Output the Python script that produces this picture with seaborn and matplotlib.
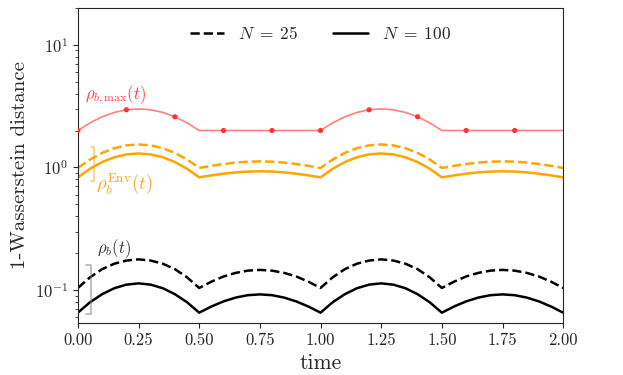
import numpy as np
import pandas as pd
import matplotlib
matplotlib.use("Agg")
import matplotlib.pyplot as plt
import seaborn as sns

# time grid (step 0.05)
time = np.round(np.arange(0, 2.0001, 0.05), 2)

# values (1-Wasserstein distance)
rho_max = [2.0, 2.309, 2.588, 2.809, 2.951, 3.0, 2.951, 2.809, 2.588, 2.309,
           2.0, 2.0, 2.0, 2.0, 2.0, 2.0, 2.0, 2.0, 2.0, 2.0,
           2.0, 2.309, 2.588, 2.809, 2.951, 3.0, 2.951, 2.809, 2.588, 2.309,
           2.0, 2.0, 2.0, 2.0, 2.0, 2.0, 2.0, 2.0, 2.0, 2.0,
           2.0]
env_25 = [0.99, 1.16, 1.313, 1.435, 1.513, 1.54, 1.513, 1.435, 1.313, 1.16,
          0.99, 1.03, 1.066, 1.095, 1.114, 1.12, 1.114, 1.095, 1.066, 1.03,
          0.99, 1.16, 1.313, 1.435, 1.513, 1.54, 1.513, 1.435, 1.313, 1.16,
          0.99, 1.03, 1.066, 1.095, 1.114, 1.12, 1.114, 1.095, 1.066, 1.03,
          0.99]
env_100 = [0.83, 0.975, 1.106, 1.21, 1.277, 1.30, 1.277, 1.21, 1.106, 0.975,
           0.83, 0.861, 0.889, 0.911, 0.925, 0.93, 0.925, 0.911, 0.889, 0.861,
           0.83, 0.975, 1.106, 1.21, 1.277, 1.30, 1.277, 1.21, 1.106, 0.975,
           0.83, 0.861, 0.889, 0.911, 0.925, 0.93, 0.925, 0.911, 0.889, 0.861,
           0.83]
rho_25 = [0.104, 0.127, 0.148, 0.164, 0.174, 0.178, 0.174, 0.164, 0.148, 0.127,
          0.104, 0.117, 0.129, 0.138, 0.144, 0.146, 0.144, 0.138, 0.129, 0.117,
          0.104, 0.127, 0.148, 0.164, 0.174, 0.178, 0.174, 0.164, 0.148, 0.127,
          0.104, 0.117, 0.129, 0.138, 0.144, 0.146, 0.144, 0.138, 0.129, 0.117,
          0.104]
rho_100 = [0.0654, 0.0795, 0.0925, 0.1035, 0.1107, 0.1134, 0.1107, 0.1035, 0.0925, 0.0795,
           0.0654, 0.0734, 0.0808, 0.0868, 0.0908, 0.0922, 0.0908, 0.0868, 0.0808, 0.0734,
           0.0654, 0.0795, 0.0925, 0.1035, 0.1107, 0.1134, 0.1107, 0.1035, 0.0925, 0.0795,
           0.0654, 0.0734, 0.0808, 0.0868, 0.0908, 0.0922, 0.0908, 0.0868, 0.0808, 0.0734,
           0.0654]
xticks = [0.0, 0.25, 0.5, 0.75, 1.0, 1.25, 1.5, 1.75, 2.0]

df = pd.DataFrame({"time": time, "max": rho_max, "env25": env_25,
                   "env100": env_100, "rho25": rho_25, "rho100": rho_100})
# markers every 0.2 on the max curve (not at t=2)
df_mark = df.iloc[0:40:4]

sns.set_style("ticks")
plt.rcParams["font.family"] = ["cmr10", "DejaVu Serif"]
plt.rcParams["mathtext.fontset"] = "cm"
plt.rcParams["axes.formatter.use_mathtext"] = True
plt.rcParams["axes.unicode_minus"] = False

fig = plt.figure(figsize=(6.23, 3.75), dpi=100)
ax = fig.add_axes([0.125, 0.139, 0.779, 0.840])

# rho_b,max
sns.lineplot(data=df, x="time", y="max", ax=ax, color="#ff8080", lw=1.2)
sns.scatterplot(data=df_mark, x="time", y="max", ax=ax, color="#ff3333",
                s=14, edgecolor="none", zorder=5)

# envelopes
sns.lineplot(data=df, x="time", y="env25", ax=ax, color="orange", lw=1.8, linestyle="--")
sns.lineplot(data=df, x="time", y="env100", ax=ax, color="orange", lw=1.8)

# rho_b
sns.lineplot(data=df, x="time", y="rho25", ax=ax, color="black", lw=1.8,
             linestyle="--", label=r"$N\;=\;25$")
sns.lineplot(data=df, x="time", y="rho100", ax=ax, color="black", lw=1.8,
             label=r"$N\;=\;100$")

ax.set_yscale("log")
ax.set_xlim(0, 2)
ax.set_ylim(0.054, 20)
ax.set_xticks(xticks)
ax.set_xticklabels([f"{v:.2f}" for v in xticks])
ax.tick_params(labelsize=12)
ax.set_xlabel("time", fontsize=15.5)
ax.set_ylabel("1-Wasserstein distance", fontsize=15)

# brackets
ax.plot([0.054, 0.068, 0.068, 0.054], [1.48, 1.48, 0.77, 0.77], color="orange",
        alpha=0.55, lw=1.2)
ax.plot([0.033, 0.055, 0.055, 0.033], [0.16, 0.16, 0.064, 0.064], color="grey",
        alpha=0.6, lw=1.2)

# labels
ax.text(0.03, 3.9, r"$\rho_{b,\max}(t)$", color="#ff4040", fontsize=12, va="center")
ax.text(0.075, 0.73, r"$\rho_b^{\rm Env}(t)$", color="#ffa520", fontsize=13.5, va="center")
ax.text(0.078, 0.217, r"$\rho_b(t)$", color="#333333", fontsize=12, va="center")

ax.legend(loc="upper center", ncol=2, frameon=False, fontsize=12.5,
          bbox_to_anchor=(0.5, 0.995))

fig.savefig("out.png", dpi=100)
